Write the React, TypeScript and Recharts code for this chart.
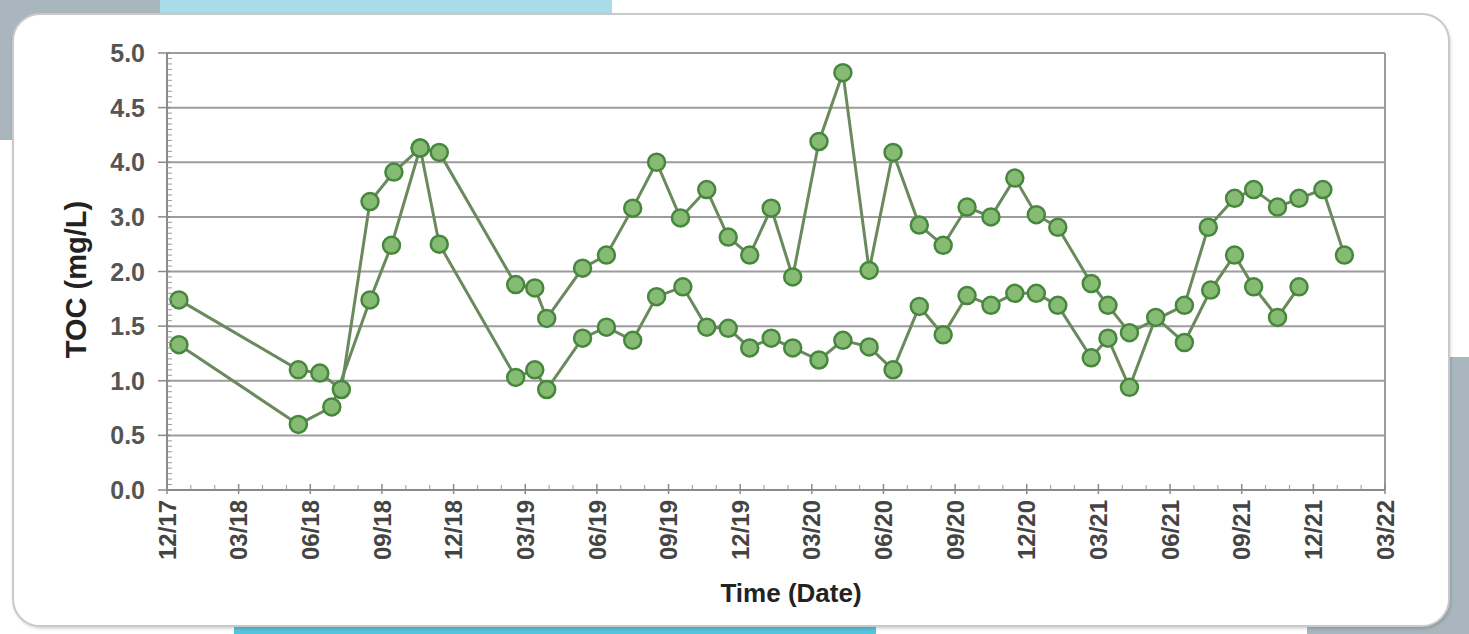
import React from "react";
import { LineChart, Line, XAxis, YAxis, CartesianGrid } from "recharts";

// Y tick labels as printed on the original axis (evenly spaced gridlines)
const yTickLabels = [0.0, 0.5, 1.0, 1.5, 2.0, 3.0, 4.0, 4.5, 5.0];
// X tick labels (quarterly, months since 12/17)
const xTickLabels = [
  "12/17", "03/18", "06/18", "09/18", "12/18", "03/19", "06/19", "09/19", "12/19",
  "03/20", "06/20", "09/20", "12/20", "03/21", "06/21", "09/21", "12/21", "03/22",
];

// Series A (months since 12/17, TOC mg/L)
const seriesAMonths = [
  0.5, 5.5, 6.4, 7.3, 8.5, 9.5, 10.6, 11.4, 14.6, 15.4, 15.9, 17.4, 18.4, 19.5, 20.5,
  21.5, 22.6, 23.5, 24.4, 25.3, 26.2, 27.3, 28.3, 29.4, 30.4, 31.5, 32.5, 33.5, 34.5,
  35.5, 36.4, 37.3, 38.7, 39.4, 40.3, 42.6, 43.6, 44.7, 45.5, 46.5, 47.4, 48.4, 49.3,
];
const seriesAValues = [
  1.74, 1.1, 1.07, 0.92, 3.28, 3.82, 4.13, 4.09, 1.88, 1.85, 1.57, 2.06, 2.3, 3.16, 4.0,
  2.98, 3.5, 2.63, 2.3, 3.16, 1.95, 4.19, 4.82, 2.02, 4.09, 2.85, 2.48, 3.18, 3.0,
  3.71, 3.04, 2.81, 1.89, 1.69, 1.44, 1.69, 2.81, 3.34, 3.5, 3.18, 3.34, 3.5, 2.3,
];

// Series B
const seriesBMonths = [
  0.5, 5.5, 6.9, 8.5, 9.4, 10.6, 11.4, 14.6, 15.4, 15.9, 17.4, 18.4, 19.5, 20.5, 21.6,
  22.6, 23.5, 24.4, 25.3, 26.2, 27.3, 28.3, 29.4, 30.4, 31.5, 32.5, 33.5, 34.5, 35.5,
  36.4, 37.3, 38.7, 39.4, 40.3, 41.4, 42.6, 43.7, 44.7, 45.5, 46.5, 47.4,
];
const seriesBValues = [
  1.33, 0.6, 0.76, 1.74, 2.48, 4.13, 2.5, 1.03, 1.1, 0.92, 1.39, 1.49, 1.37, 1.77, 1.86,
  1.49, 1.48, 1.3, 1.39, 1.3, 1.19, 1.37, 1.31, 1.1, 1.68, 1.42, 1.78, 1.69, 1.8,
  1.8, 1.69, 1.21, 1.39, 0.94, 1.58, 1.35, 1.83, 2.3, 1.86, 1.58, 1.86,
];

const dataA = seriesAMonths.map((m, i) => ({ m, v: seriesAValues[i] }));
const dataB = seriesBMonths.map((m, i) => ({ m, v: seriesBValues[i] }));

// map a value to its position on the evenly spaced (printed) axis
const toPos = (v: number) => {
  for (let i = 0; i < yTickLabels.length - 1; i++) {
    const a = yTickLabels[i];
    const b = yTickLabels[i + 1];
    if (v <= b || i === yTickLabels.length - 2) return i + (v - a) / (b - a);
  }
  return 0;
};
const posKey = (d: { v: number }) => toPos(d.v);

const yMax = yTickLabels.length - 1;
const yTicks: number[] = [];
for (let i = 0; i <= yMax * 10; i++) yTicks.push(i / 10);
const xMax = (xTickLabels.length - 1) * 3;
const xTicks: number[] = [];
for (let i = 0; i <= xMax; i++) xTicks.push(i);
const majorY = yTickLabels.map((_, i) => i);

const AXIS = "#8a8a8a";
const FONT = "'Liberation Sans', Arial, sans-serif";

const YTick = (props: any) => {
  const { x, y, payload } = props;
  const v = payload.value;
  const major = Math.abs(v - Math.round(v)) < 1e-6;
  return (
    <g>
      {major ? (
        <line x1={x - 9} x2={x + 3} y1={y} y2={y} stroke={AXIS} strokeWidth={1.5} />
      ) : (
        <line x1={x} x2={x + 5} y1={y} y2={y} stroke="#9a9a9a" strokeWidth={1} />
      )}
      {major && (
        <text
          x={x - 22}
          y={y}
          dy="0.36em"
          textAnchor="end"
          fontSize={25}
          fontWeight="bold"
          fill="#555555"
          fontFamily={FONT}
        >
          {yTickLabels[Math.round(v)].toFixed(1)}
        </text>
      )}
    </g>
  );
};

const XTick = (props: any) => {
  const { x, y, payload } = props;
  const m = payload.value;
  const major = m % 3 === 0;
  return (
    <g>
      {major ? (
        <line x1={x} x2={x} y1={y - 6} y2={y + 4} stroke={AXIS} strokeWidth={1.5} />
      ) : (
        <line x1={x} x2={x} y1={y - 5} y2={y} stroke="#9a9a9a" strokeWidth={1} />
      )}
      {major && (
        <text
          x={x}
          y={y + 10}
          dy="0.36em"
          textAnchor="end"
          transform={`rotate(-90, ${x}, ${y + 10})`}
          fontSize={24}
          fontWeight="bold"
          fill="#444444"
          fontFamily={FONT}
        >
          {xTickLabels[m / 3]}
        </text>
      )}
    </g>
  );
};

const dotStyle = { r: 8.5, fill: "#85bb72", stroke: "#47863d", strokeWidth: 2.5 };

export default function App() {
  return (
    <div style={{ position: "relative", width: 1469, height: 634, overflow: "hidden", background: "#ffffff" }}>
      <style>{`body{margin:0}`}</style>
      <div style={{ position: "absolute", left: 0, top: 0, width: 160, height: 140, background: "#a9b6be" }} />
      <div style={{ position: "absolute", left: 160, top: 0, width: 452, height: 40, background: "#a9dbe9" }} />
      <div style={{ position: "absolute", left: 234, top: 590, width: 642, height: 44, background: "#55c4de" }} />
      <div style={{ position: "absolute", left: 1307, top: 590, width: 162, height: 44, background: "#a9b6be" }} />
      <div style={{ position: "absolute", left: 1420, top: 357, width: 49, height: 277, background: "#a9b6be" }} />
      <div
        style={{
          position: "absolute",
          left: 12,
          top: 13,
          width: 1434,
          height: 610,
          background: "#ffffff",
          border: "2px solid #c9c9c9",
          borderRadius: 28,
          boxShadow: "1px 2px 3px rgba(0,0,0,0.15)",
        }}
      />
      <div style={{ position: "absolute", left: 0, top: 0 }}>
        <LineChart width={1469} height={634} margin={{ top: 53, right: 84, left: 0, bottom: 0 }}>
          <CartesianGrid
            stroke="#9c9c9c"
            strokeWidth={2}
            horizontal={true}
            vertical={true}
            horizontalValues={majorY}
            verticalValues={[xMax]}
          />
          <XAxis
            type="number"
            dataKey="m"
            domain={[0, xMax]}
            ticks={xTicks}
            interval={0}
            height={144}
            tickSize={0}
            tickMargin={0}
            tickLine={false}
            tick={<XTick />}
            axisLine={{ stroke: AXIS, strokeWidth: 2 }}
            label={{
              value: "Time (Date)",
              position: "center",
              dx: 15,
              dy: 31,
              fontSize: 26,
              fontWeight: "bold",
              fill: "#222",
              fontFamily: FONT,
            }}
          />
          <YAxis
            type="number"
            domain={[0, yMax]}
            ticks={yTicks}
            interval={0}
            width={167}
            tickSize={0}
            tickMargin={0}
            tickLine={false}
            tick={<YTick />}
            axisLine={{ stroke: AXIS, strokeWidth: 2 }}
            label={{
              value: "TOC (mg/L)",
              angle: -90,
              position: "center",
              dx: -8,
              dy: 8,
              fontSize: 29,
              fontWeight: "bold",
              fill: "#222",
              fontFamily: FONT,
            }}
          />
          <Line
            data={dataA}
            dataKey={posKey}
            type="linear"
            stroke="#6a8a5e"
            strokeWidth={3}
            dot={dotStyle}
            activeDot={false}
            isAnimationActive={false}
          />
          <Line
            data={dataB}
            dataKey={posKey}
            type="linear"
            stroke="#6a8a5e"
            strokeWidth={3}
            dot={dotStyle}
            activeDot={false}
            isAnimationActive={false}
          />
        </LineChart>
      </div>
    </div>
  );
}
